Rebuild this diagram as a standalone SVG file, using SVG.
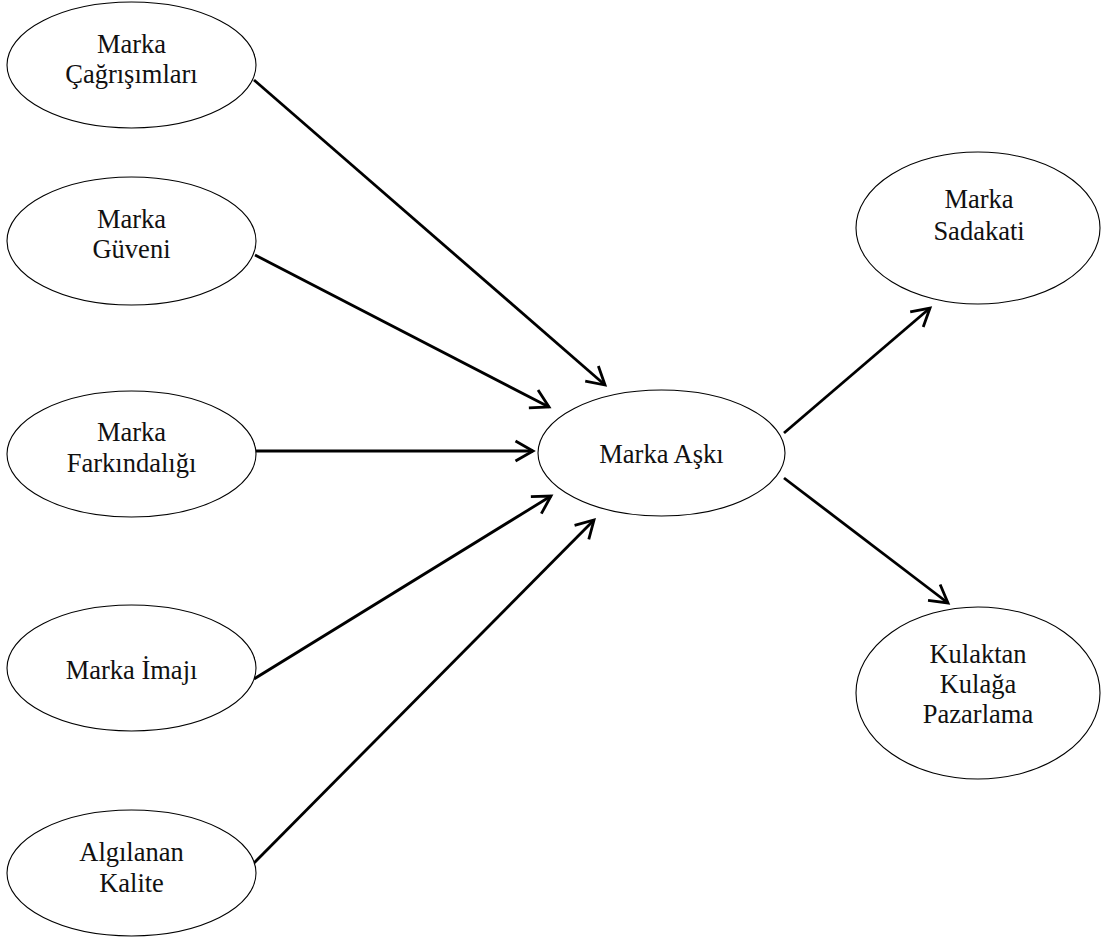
<svg xmlns="http://www.w3.org/2000/svg" width="1104" height="940" viewBox="0 0 1104 940">
  <style>
    .node ellipse { fill: #ffffff; stroke: #000000; stroke-width: 1.1; }
    .node text { font-family: "Liberation Serif", "Times New Roman", serif; font-size: 26.5px; fill: #111111; text-anchor: middle; }
    .edge { fill: none; stroke: #000000; stroke-width: 2.8; marker-end: url(#open-arrow); }
  </style>
  <defs>
    <marker id="open-arrow" markerUnits="userSpaceOnUse" markerWidth="40" markerHeight="40" viewBox="-30 -20 40 40" refX="0" refY="0" orient="auto" overflow="visible">
      <path d="M-17.5,-10 L0,0 L-17.5,10" fill="none" stroke="#000000" stroke-width="2.8" stroke-linejoin="miter"/>
    </marker>
  </defs>
  <rect width="1104" height="940" fill="#ffffff"/>

  <g id="connectors">
    <line class="edge" x1="254" y1="80" x2="605" y2="385"/>
    <line class="edge" x1="255" y1="255" x2="549" y2="407"/>
    <line class="edge" x1="256" y1="451" x2="533" y2="451"/>
    <line class="edge" x1="254" y1="679" x2="551" y2="496"/>
    <line class="edge" x1="254" y1="863" x2="594" y2="520"/>
    <line class="edge" x1="784" y1="433" x2="930" y2="308"/>
    <line class="edge" x1="784" y1="478" x2="948" y2="603"/>
  </g>

  <g id="marka-cagrisimlari" class="node">
    <ellipse cx="131.5" cy="65" rx="124.5" ry="63"/>
    <text x="131.5" y="53">Marka</text>
    <text x="131.5" y="83">Çağrışımları</text>
  </g>

  <g id="marka-guveni" class="node">
    <ellipse cx="131.5" cy="241" rx="124.5" ry="64"/>
    <text x="131.5" y="228">Marka</text>
    <text x="131.5" y="258">Güveni</text>
  </g>

  <g id="marka-farkindaligi" class="node">
    <ellipse cx="131.5" cy="454" rx="124.5" ry="63"/>
    <text x="131.5" y="441">Marka</text>
    <text x="131.5" y="472">Farkındalığı</text>
  </g>

  <g id="marka-imaji" class="node">
    <ellipse cx="131.5" cy="668" rx="124.5" ry="63"/>
    <text x="131.5" y="679">Marka İmajı</text>
  </g>

  <g id="algilanan-kalite" class="node">
    <ellipse cx="131.5" cy="873" rx="124.5" ry="63"/>
    <text x="131.5" y="861">Algılanan</text>
    <text x="131.5" y="892">Kalite</text>
  </g>

  <g id="marka-aski" class="node">
    <ellipse cx="661.5" cy="453" rx="123.5" ry="63"/>
    <text x="661.5" y="463">Marka Aşkı</text>
  </g>

  <g id="marka-sadakati" class="node">
    <ellipse cx="978" cy="228" rx="122" ry="76"/>
    <text x="979" y="208">Marka</text>
    <text x="979" y="240">Sadakati</text>
  </g>

  <g id="kulaktan-kulaga-pazarlama" class="node">
    <ellipse cx="978" cy="693" rx="122" ry="86"/>
    <text x="978" y="663">Kulaktan</text>
    <text x="978" y="693">Kulağa</text>
    <text x="978" y="723">Pazarlama</text>
  </g>
</svg>
